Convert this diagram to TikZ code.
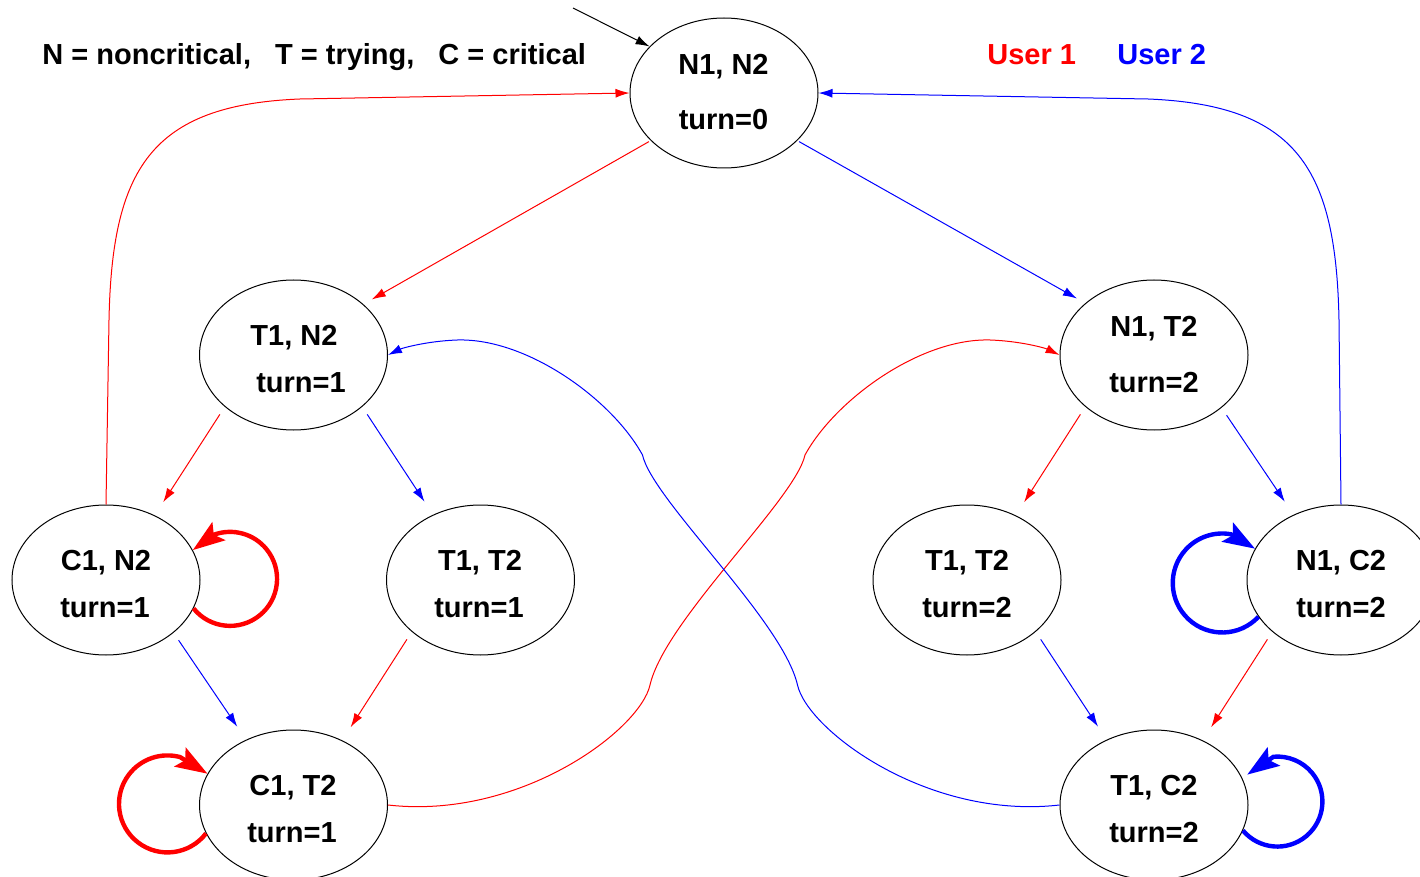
\documentclass[tikz,border=0pt]{standalone}
\usepackage{fontspec}
\setmainfont{Liberation Sans}
\usetikzlibrary{shapes.geometric,arrows.meta}
\begin{document}
\begin{tikzpicture}[x=0.5pt,y=-0.5pt,
  stnode/.style={draw=black, line width=0.5pt, ellipse, minimum width=94pt, minimum height=75pt, inner sep=0pt},
  lbl/.style={anchor=base, inner sep=0pt, font=\bfseries\fontsize{14.5}{17}\selectfont},
  conn/.style={line width=0.5pt, -{Latex[length=7pt,width=4.5pt]}},
  uconn/.style={conn, shorten <=1pt, shorten >=4.8pt},
  lconn/.style={conn, shorten <=4.5pt, shorten >=7.8pt},
  selfloop/.style={line width=2.2pt, -{Stealth[length=16pt,width=11pt,inset=3pt]}}
]
\useasboundingbox (0,0) rectangle (1420,877);

% states
\node[stnode] (n12)  at (724,93) {};
\node[stnode] (t1n2) at (293.5,355) {};
\node[stnode] (n1t2) at (1154,355) {};
\node[stnode] (c1n2) at (106,580) {};
\node[stnode] (t1t2a) at (480.5,580) {};
\node[stnode] (t1t2b) at (967,580) {};
\node[stnode] (n1c2) at (1341,580) {};
\node[stnode] (c1t2) at (293.5,805) {};
\node[stnode] (t1c2) at (1154,805) {};

% labels
\node[lbl] (l1a) at (723.5,75) {N1, N2};
\node[lbl] (l1b) at (723.5,130) {turn=0};
\node[lbl] (l2a) at (294,346) {T1, N2};
\node[lbl] (l2b) at (301,393) {turn=1};
\node[lbl] (l3a) at (1154,337) {N1, T2};
\node[lbl] (l3b) at (1154,393) {turn=2};
\node[lbl] (l4a) at (106,570) {C1, N2};
\node[lbl] (l4b) at (105,617) {turn=1};
\node[lbl] (l5a) at (480,570) {T1, T2};
\node[lbl] (l5b) at (479,617) {turn=1};
\node[lbl] (l6a) at (967,570) {T1, T2};
\node[lbl] (l6b) at (967,617) {turn=2};
\node[lbl] (l7a) at (1341,570) {N1, C2};
\node[lbl] (l7b) at (1341,617) {turn=2};
\node[lbl] (l8a) at (293,795) {C1, T2};
\node[lbl] (l8b) at (292,842) {turn=1};
\node[lbl] (l9a) at (1154,795) {T1, C2};
\node[lbl] (l9b) at (1154,842) {turn=2};

% legend
\node[lbl, anchor=base west] (legend) at (42,65) {N = noncritical,\hspace{12pt}T = trying,\hspace{12pt}C = critical};
\node[lbl, anchor=base west, text=red] (user1) at (987,65) {User 1};
\node[lbl, anchor=base west, text=blue] (user2) at (1117,65) {User 2};

% initial arrow
\coordinate (init) at (573,8);
\draw[conn] (init) -- (n12.148);

% straight transitions
\draw[uconn, red]  (n12.213.5) -- (t1n2.36.7);
\draw[uconn, blue] (n12.327.4) -- (n1t2.143.1);
\draw[lconn, red]  (t1n2.217) -- (c1n2.53.5);
\draw[lconn, blue] (t1n2.323) -- (t1t2a.126.7);
\draw[lconn, red]  (n1t2.217.2) -- (t1t2b.53);
\draw[lconn, blue] (n1t2.322.8) -- (n1c2.126.5);
\draw[lconn, blue] (c1n2.322.8) -- (c1t2.126.7);
\draw[lconn, red]  (t1t2a.217) -- (c1t2.53.7);
\draw[lconn, blue] (t1t2b.323) -- (t1c2.126.5);
\draw[lconn, red]  (n1c2.217.6) -- (t1c2.53);

% return arcs to the initial state
\draw[conn, red] (c1n2.north) -- (109,320) .. controls (112,170) and (150,105) .. (300,99) -- (n12.west);
\draw[conn, blue] (n1c2.north) -- (1339,320) .. controls (1336,170) and (1298,105) .. (1148,99) -- (n12.east);

% crossing arcs
\draw[conn, red] (c1t2.east) .. controls (520,820) and (640,730) .. (650,685)
  .. controls (665,620) and (795,500) .. (805,455)
  .. controls (835,400) and (920,338) .. (990,340)
  .. controls (1020,341) and (1045,348) .. (n1t2.west);
\draw[conn, blue] (t1c2.west) .. controls (927.5,820) and (807.5,730) .. (797.5,685)
  .. controls (782.5,620) and (652.5,500) .. (642.5,455)
  .. controls (612.5,400) and (527.5,338) .. (457.5,340)
  .. controls (427.5,341) and (402.5,348) .. (t1n2.east);

% self loops
\draw[selfloop, red]  (c1n2.-18) arc[start angle=141, end angle=-110, radius=47] -- (c1n2.19.6);
\draw[selfloop, red]  (c1t2.198.7) arc[start angle=37.5, end angle=285, radius=48.5] -- (c1t2.160.9);
\draw[selfloop, blue] (n1c2.204.6) arc[start angle=43, end angle=280, radius=49.5] -- (n1c2.160.8);
\draw[selfloop, blue, shorten >=3pt] (t1c2.-16.8) arc[start angle=140, end angle=-95, radius=45] -- (t1c2.17.5);
\end{tikzpicture}
\end{document}
